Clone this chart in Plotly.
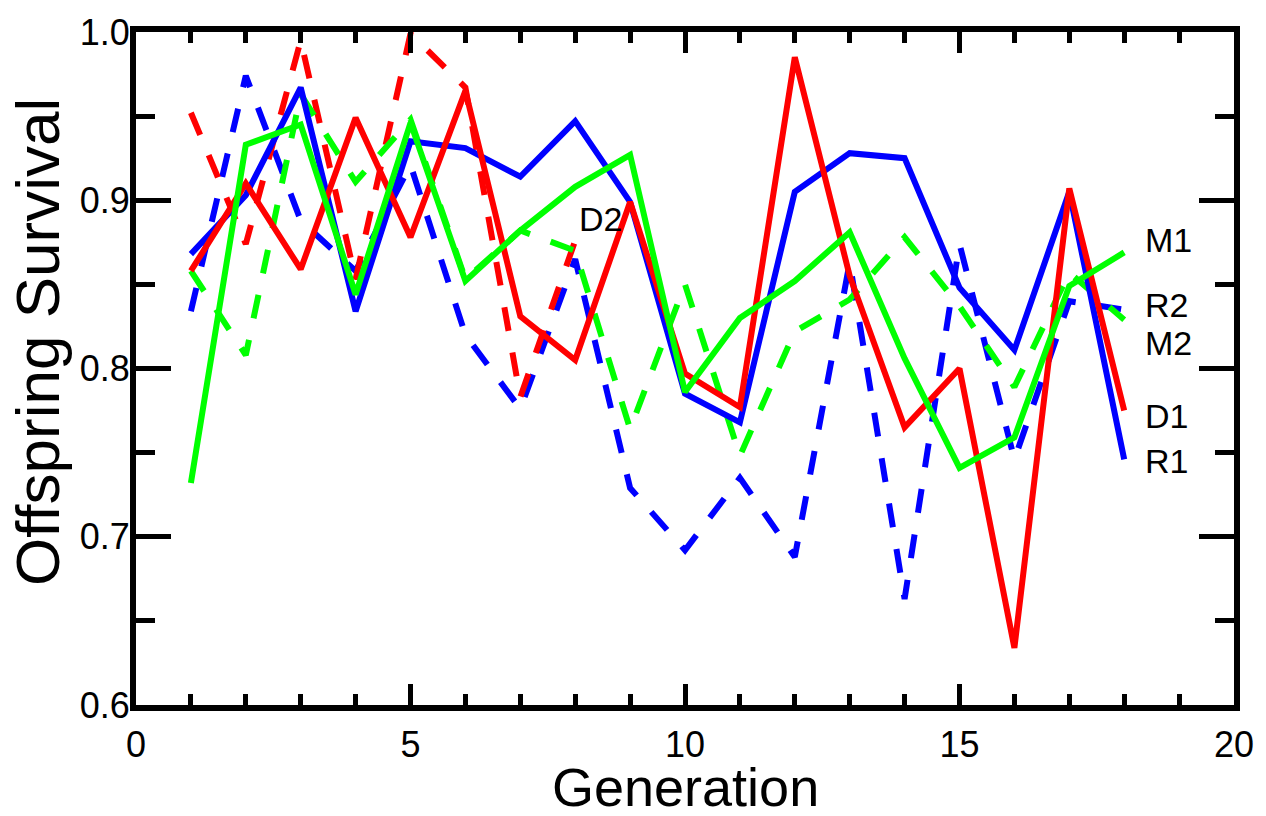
import plotly.graph_objects as go

generation = list(range(1, 19))
gen_d2 = list(range(1, 9))

R1 = [0.868, 0.903, 0.967, 0.834, 0.935, 0.931, 0.914, 0.947, 0.899, 0.785, 0.768, 0.905, 0.928, 0.925, 0.848, 0.811, 0.905, 0.746]
D1 = [0.858, 0.910, 0.859, 0.949, 0.878, 0.965, 0.831, 0.805, 0.899, 0.797, 0.777, 0.985, 0.855, 0.765, 0.800, 0.634, 0.907, 0.775]
M1 = [0.732, 0.933, 0.945, 0.844, 0.946, 0.852, 0.882, 0.908, 0.927, 0.786, 0.830, 0.852, 0.881, 0.806, 0.741, 0.759, 0.849, 0.869]
R2 = [0.834, 0.974, 0.888, 0.858, 0.921, 0.820, 0.776, 0.865, 0.729, 0.692, 0.735, 0.688, 0.863, 0.663, 0.874, 0.746, 0.840, 0.835]
D2 = [0.952, 0.874, 0.995, 0.853, 0.999, 0.967, 0.783, 0.876]
M2 = [0.858, 0.808, 0.963, 0.911, 0.948, 0.853, 0.882, 0.870, 0.764, 0.850, 0.748, 0.822, 0.841, 0.878, 0.837, 0.789, 0.857, 0.829]

labels = ["M1", "R2", "M2", "D1", "R1"]
label_y = [0.8765, 0.838, 0.815, 0.772, 0.745]

BLUE, RED, GREEN = "#0000ff", "#ff0000", "#00ff00"
FONT = "Liberation Sans, Arial, sans-serif"
DASH = "24px,22px"
LW = 6

fig = go.Figure()
series = [
    (generation, R2, BLUE, DASH, "R2"),
    (gen_d2, D2, RED, DASH, "D2"),
    (generation, M2, GREEN, DASH, "M2"),
    (generation, R1, BLUE, "solid", "R1"),
    (generation, D1, RED, "solid", "D1"),
    (generation, M1, GREEN, "solid", "M1"),
]
for x, y, c, d, n in series:
    fig.add_trace(go.Scatter(x=x, y=y, mode="lines", name=n,
                             line=dict(color=c, width=LW, dash=d)))

for t, yv in zip(labels, label_y):
    fig.add_annotation(x=18.35, y=yv, text=t, showarrow=False, xanchor="left",
                       yanchor="middle", font=dict(family=FONT, size=34, color="black"))
fig.add_annotation(x=8.04, y=0.889, text="D2", showarrow=False, xanchor="left",
                   yanchor="middle", font=dict(family=FONT, size=34, color="black"))

# axis titles as annotations
fig.add_annotation(x=0.5, y=0, xref="paper", yref="paper", xanchor="center", yanchor="top",
                   yshift=-50, text="Generation", showarrow=False,
                   font=dict(family=FONT, size=54, color="black"))
fig.add_annotation(x=-0.0898, y=0.54, xref="paper", yref="paper", xanchor="center",
                   yanchor="middle", textangle=-90, text="Offspring Survival", showarrow=False,
                   font=dict(family=FONT, size=62, color="black"))

axis_common = dict(showgrid=False, zeroline=False, showline=True, linecolor="black",
                   linewidth=6, mirror="ticks", ticks="inside", tickcolor="black",
                   tickwidth=5, tickfont=dict(family=FONT, size=36, color="black"))

fig.update_xaxes(range=[0, 20], tickvals=[0, 5, 10, 15, 20], ticklen=21,
                 ticklabelstandoff=3,
                 minor=dict(tickvals=[i for i in range(1, 20) if i % 5], ticks="inside",
                            ticklen=11, tickwidth=5, tickcolor="black"),
                 **axis_common)
fig.update_yaxes(range=[0.6, 1.0], tickvals=[0.6, 0.7, 0.8, 0.9, 1.0],
                 ticktext=["0.6", "0.7", "0.8", "0.9", "1.0"], ticklen=35,
                 ticklabelstandoff=-7,
                 minor=dict(tickvals=[0.65, 0.75, 0.85, 0.95], ticks="inside",
                            ticklen=19, tickwidth=5, tickcolor="black"),
                 **axis_common)

fig.update_layout(width=1266, height=816, showlegend=False,
                  plot_bgcolor="white", paper_bgcolor="white",
                  margin=dict(l=136, r=28, t=24, b=111))

fig.write_html("out.html")
